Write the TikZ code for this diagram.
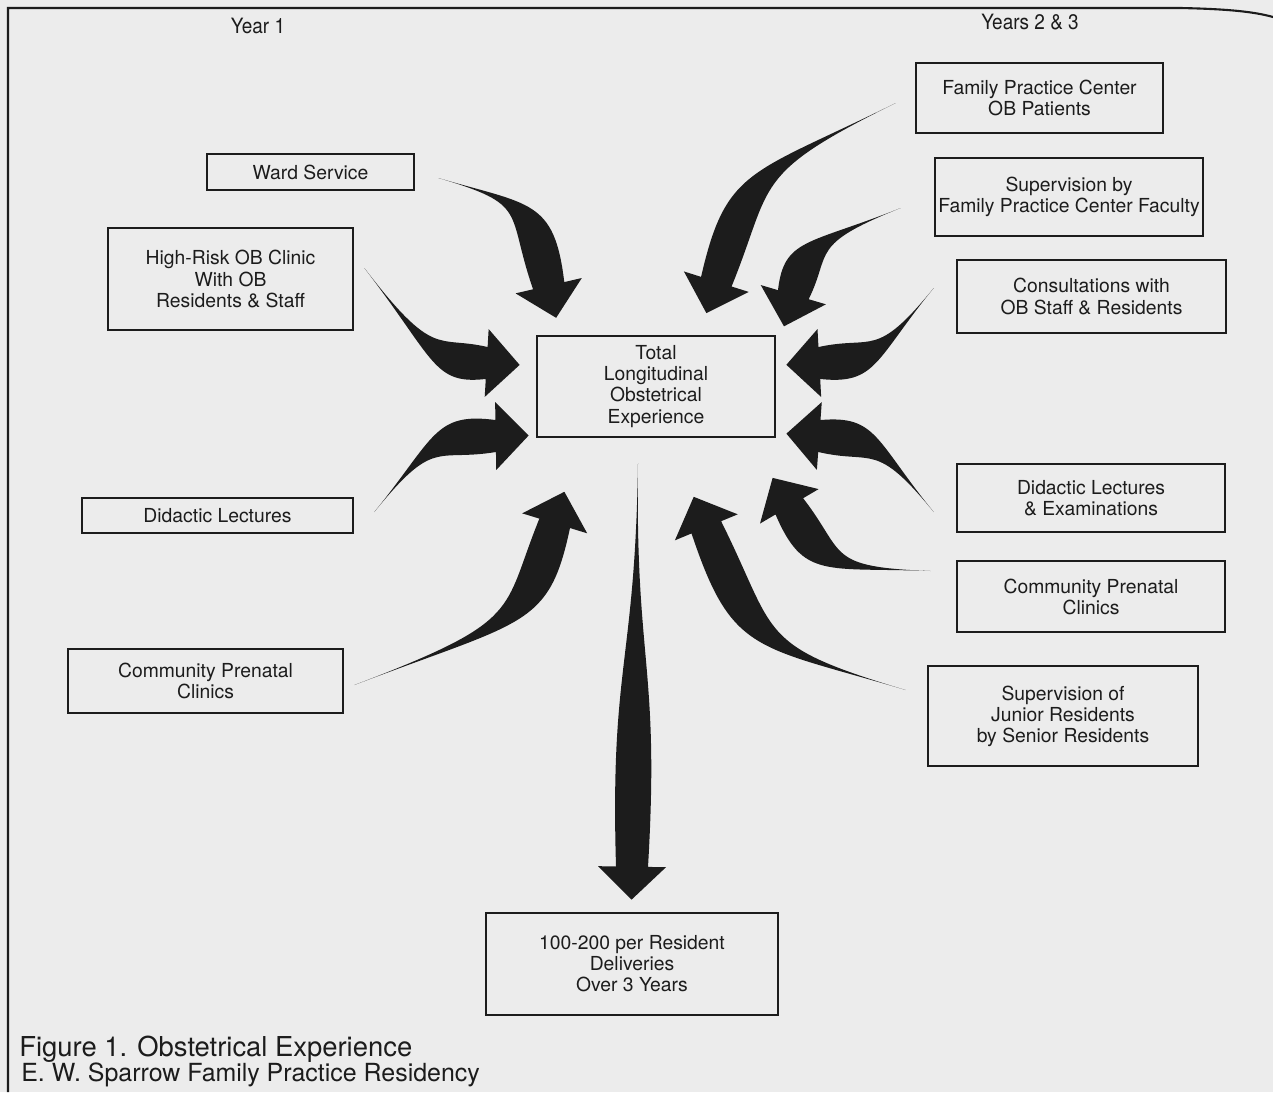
\documentclass[tikz,border=0pt]{standalone}
\usepackage{fontspec}
\setmainfont{TeX Gyre Heros}
\newfontfamily\condfont[FakeStretch=0.9]{TeX Gyre Heros}
\usetikzlibrary{calc}
\definecolor{paper}{HTML}{ECECEC}
\definecolor{ink}{HTML}{1C1C1C}
\newcommand{\shafthalf}{0.32cm}
\newcommand{\bendoff}{0.5cm}
\newcommand{\headhalf}{0.68cm}
\newcommand{\headlen}{0.66cm}
% tapered bent arrow: tail, bend, head base
\newcommand{\bentarrow}[3]{%
  \fill[ofill] (#1)
    .. controls (#2) and ($(#2)!\bendoff!-90:(#3)$) .. ($(#3)!\shafthalf!90:(#2)$)
    -- ($(#3)!\headhalf!90:(#2)$)
    -- ($(#3)!-\headlen!(#2)$)
    -- ($(#3)!\headhalf!-90:(#2)$)
    -- ($(#3)!\shafthalf!-90:(#2)$)
    .. controls ($(#2)!\bendoff!90:(#3)$) and (#2) .. (#1) -- cycle;}
\tikzset{
  obox/.style 2 args={draw=ink, line width=1.5pt, align=center, inner sep=0pt, text=ink, minimum width=#1*0.02cm, minimum height=#2*0.02cm, font=\fontsize{11}{12}\selectfont},
  oyear/.style={text=ink, inner sep=0pt, font=\condfont\fontsize{12}{14}\selectfont},
  ocap/.style={anchor=base west, text=ink, inner sep=0pt},
  ofill/.style={fill=ink},
  oframe/.style={draw=ink, line width=1.2pt},
}
\begin{document}
\begin{tikzpicture}[x=0.02cm, y=-0.02cm]
  \fill[paper] (0,0) rectangle (1273,1092);
  \useasboundingbox (0,0) rectangle (1273,1092);
  \draw[oframe] (8,1092) -- (8,8) -- (1180,8) .. controls (1230,9) and (1255,12) .. (1273,17);

  \node[oyear] (year1) at (258,26) {Year 1};
  \node[oyear] (year23) at (1030,22) {Years 2 \& 3};

  % year 1
  \node[obox={207}{36}] (ward) at (310.5,172) {Ward Service};
  \node[obox={245}{102}] (hrisk) at (230.5,279) {High-Risk OB Clinic\\With OB\\Residents \& Staff};
  \node[obox={271}{35}] (didl) at (217.5,515.5) {Didactic Lectures};
  \node[obox={275}{64}] (cpl) at (205.5,681) {Community Prenatal\\Clinics};

  \node[obox={238}{101}] (total) at (656,386.5) {Total\\Longitudinal\\Obstetrical\\Experience};
  \node[obox={292}{102}] (deliv) at (632,964) {100-200 per Resident\\Deliveries\\Over 3 Years};

  % years 2 & 3
  \node[obox={247}{70}] (fpc) at (1039.5,98) {Family Practice Center\\OB Patients};
  \node[obox={268}{78}] (sup) at (1069,197) {Supervision by\\Family Practice Center Faculty};
  \node[obox={269}{73}] (cons) at (1091.5,296.5) {Consultations with\\OB Staff \& Residents};
  \node[obox={268}{68}] (didr) at (1091,498) {Didactic Lectures\\\& Examinations};
  \node[obox={268}{71}] (cpr) at (1091,596.5) {Community Prenatal\\Clinics};
  \node[obox={270}{100}] (supj) at (1063,716) {Supervision of\\Junior Residents\\by Senior Residents};

  \node[ocap, font=\fontsize{15.6}{16}\selectfont] (cap1) at (19,1056) {Figure 1. Obstetrical Experience};
  \node[ocap, font=\fontsize{14.2}{16}\selectfont] (cap2) at (21,1081) {E. W. Sparrow Family Practice Residency};

  % arrow ends
  \coordinate (wardT) at ($(ward.east)+(23,6)$);
  \coordinate (wardB) at (530,205);
  \coordinate (wardH) at ($(total.north west)+(13,-49)$);
  \coordinate (hriskT) at ($(hrisk.east)+(10,-11)$);
  \coordinate (hriskB) at (435,360);
  \coordinate (hriskH) at ($(total.west)+(-49,-23.5)$);
  \coordinate (didlT) at ($(didl.east)+(20,-3.5)$);
  \coordinate (didlB) at (435,437);
  \coordinate (didlH) at ($(total.west)+(-40,49.5)$);
  \coordinate (cplT) at ($(cpl.east)+(10,4)$);
  \coordinate (cplB) at (525,620);
  \coordinate (cplH) at ($(total.south west)+(19,85)$);
  \coordinate (delivT) at ($(total.south)+(-18,25)$);
  \coordinate (delivB) at (635,665);
  \coordinate (delivH) at ($(deliv.north)+(0,-45)$);
  \coordinate (fpcT) at ($(fpc.west)+(-19,5)$);
  \coordinate (fpcB) at (750,175);
  \coordinate (fpcH) at ($(total.north east)+(-60,-53)$);
  \coordinate (supT) at ($(sup.west)+(-33,11)$);
  \coordinate (supB) at (808,245);
  \coordinate (supH) at ($(total.north east)+(17,-40)$);
  \coordinate (consT) at ($(cons.west)+(-22,-8.5)$);
  \coordinate (consB) at (875,360);
  \coordinate (consH) at ($(total.east)+(43,-23.5)$);
  \coordinate (didrT) at ($(didr.west)+(-22,14)$);
  \coordinate (didrB) at (875,440);
  \coordinate (didrH) at ($(total.east)+(43,49.5)$);
  \coordinate (cprT) at ($(cpr.west)+(-25,-25.5)$);
  \coordinate (cprB) at (825,567);
  \coordinate (cprH) at ($(total.south east)+(13,68)$);
  \coordinate (supjT) at ($(supj.west)+(-21,-26)$);
  \coordinate (supjB) at (755,645);
  \coordinate (supjH) at ($(total.south east)+(-70,89)$);

  \foreach \a in {ward, hrisk, didl, cpl, deliv, fpc, sup, cons, didr, cpr, supj}
    \bentarrow{\a T}{\a B}{\a H};
\end{tikzpicture}
\end{document}
